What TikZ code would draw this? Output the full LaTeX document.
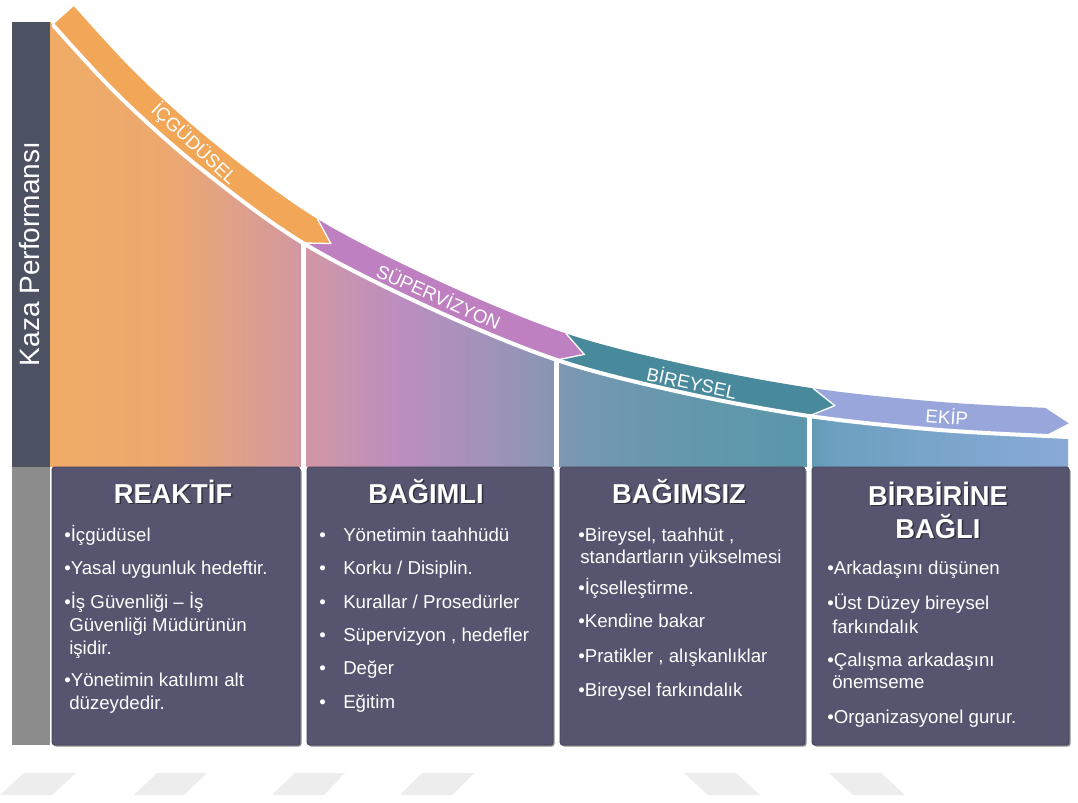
\documentclass[tikz,border=0pt]{standalone}
\usepackage{fontspec}
\setmainfont{Liberation Sans}
\definecolor{cA}{RGB}{240,172,102}
\definecolor{cB}{RGB}{236,168,112}
\definecolor{cC}{RGB}{210,152,162}
\definecolor{cD}{RGB}{188,142,192}
\definecolor{cE}{RGB}{150,148,182}
\definecolor{cF}{RGB}{118,152,178}
\definecolor{cG}{RGB}{98,152,172}
\definecolor{cH}{RGB}{92,150,170}
\definecolor{cI}{RGB}{108,160,192}
\definecolor{cJ}{RGB}{138,170,214}
\definecolor{arrorange}{RGB}{242,166,88}
\definecolor{arrpurple}{RGB}{190,128,192}
\definecolor{arrteal}{RGB}{72,138,156}
\definecolor{arrekip}{RGB}{152,166,220}
\definecolor{panelc}{RGB}{86,84,110}
\definecolor{axisdark}{RGB}{76,82,98}
\definecolor{axisgray}{RGB}{140,140,140}
\pgfdeclarehorizontalshading{curvefill}{100bp}{color(0bp)=(cA); color(25bp)=(cA); color(30.9bp)=(cB); color(37.3bp)=(cC); color(42.2bp)=(cD); color(48.1bp)=(cE); color(51bp)=(cF); color(56.9bp)=(cG); color(61.8bp)=(cH); color(63.3bp)=(cI); color(75bp)=(cJ); color(100bp)=(cJ)}
\newcommand\lowcurve{plot[smooth,tension=0.55] coordinates {(20,-14) (53,25) (120,97) (200,168) (303,243) (430,308) (557,360) (680,392) (809,416) (940,430) (1068,437) (1110,439)}}
\begin{document}
\begin{tikzpicture}[x=0.75pt,y=-0.75pt,
  body/.style={font=\fontsize{14}{16}\selectfont, text=white, anchor=base west, inner sep=0pt},
  head/.style={font=\fontsize{20.5}{24}\selectfont\bfseries, text=white, anchor=base, inner sep=0pt},
  headshadow/.style={font=\fontsize{20.5}{24}\selectfont\bfseries, text=black, opacity=0.45, anchor=base, inner sep=0pt},
  alabel/.style={font=\fontsize{14}{16}\selectfont, text=white, inner sep=0pt},
  panel/.style={fill=panelc, draw=panelc!85!black, line width=0.6pt, rounded corners=2pt},
  pshadow/.style={fill=black!45, rounded corners=2pt},
  divider/.style={white, line width=3.75pt},
  sepline/.style={white, line width=1pt, line join=miter},
  wm/.style={fill=black!7}
]
\useasboundingbox (0,0) rectangle (1078,803);
\fill[white] (0,0) rectangle (1078,803);

% left axis bars
\fill[axisdark] (12,22) rectangle (50,467);
\fill[axisgray] (12,467) rectangle (50,745);
\node[rotate=90, text=white, font=\fontsize{21}{24}\selectfont] (ylab) at (30,254) {Kaza Performansı};

% coloured area under the curve
\begin{scope}
\clip \lowcurve -- (1110,467) -- (0,467) -- cycle;
\shade[shading=curvefill] (50,10) rectangle (1068,467);
\end{scope}

% arrow bands
\begin{scope}
\clip \lowcurve -- (1110,-100) -- (0,-100) -- cycle;
\begin{scope}
\clip (41.9,600) -- (41.9,35) -- (86.4,-5.1) -- (304.34,194.66) -- (317.56,219.09) -- (330.78,243.52) -- (303,243) -- (275.22,242.48) -- (275.22,600) -- cycle;
\draw[arrorange, line width=42pt] \lowcurve;
\end{scope}
\begin{scope}
\clip (303,600) -- (303,243) -- (330.78,243.52) -- (317.56,219.09) -- (304.34,194.66) -- (547.63,312.55) -- (565.92,333.46) -- (584.21,354.37) -- (557,360) -- (529.79,365.63) -- (529.79,600) -- cycle;
\draw[arrpurple, line width=42pt] \lowcurve;
\end{scope}
\begin{scope}
\clip (557,600) -- (557,360) -- (584.21,354.37) -- (565.92,333.46) -- (547.63,312.55) -- (791.33,370.96) -- (813.05,388.29) -- (834.77,405.62) -- (809,416) -- (783.23,426.38) -- (783.23,600) -- cycle;
\draw[arrteal, line width=42pt] \lowcurve;
\end{scope}
\begin{scope}
\clip (809,600) -- (809,416) -- (834.77,405.62) -- (813.05,388.29) -- (791.33,370.96) -- (1022.35,392.74) -- (1045.54,408.04) -- (1068.73,423.34) -- (1044,436) -- (1019.27,448.66) -- (1019.27,600) -- cycle;
\draw[arrekip, line width=42pt] \lowcurve;
\end{scope}
\end{scope}

% white separations
\draw[sepline] (303,243) -- (330.78,243.52) -- (317.56,219.09);
\draw[sepline] (557,360) -- (584.21,354.37) -- (565.92,333.46);
\draw[sepline] (809,416) -- (834.77,405.62) -- (813.05,388.29);
\begin{scope}
\clip (52,0) rectangle (1068,470);
\draw[white, line width=3pt] \lowcurve;
\end{scope}
\draw[divider] (303.5,243) -- (303.5,468);
\draw[divider] (556.5,360) -- (556.5,468);
\draw[divider] (809,416) -- (809,468);

% arrow labels
\node[alabel, rotate=-43] (l1) at (194,144) {İÇGÜDÜSEL};
\node[alabel, rotate=-24] (l2) at (439,296) {SÜPERVİZYON};
\node[alabel, rotate=-12] (l3) at (692,382) {BİREYSEL};
\node[alabel, rotate=-4] (l4) at (947,416) {EKİP};

% panels
\fill[pshadow] (53.5,468.5) rectangle (301.5,746.5);
\fill[pshadow] (308.5,468.5) rectangle (554.5,746.5);
\fill[pshadow] (561.5,468.5) rectangle (806.5,746.5);
\fill[pshadow] (813.5,468.5) rectangle (1070.5,746.5);
\path[panel] (52,467) rectangle (300,745);
\path[panel] (307,467) rectangle (553,745);
\path[panel] (560,467) rectangle (805,745);
\path[panel] (812,467) rectangle (1069,745);

% headings
\node[headshadow] (h1s) at (174.5,504.5) {REAKTİF};
\node[head] (h1) at (173,503) {REAKTİF};
\node[headshadow] (h2s) at (427.5,504.5) {BAĞIMLI};
\node[head] (h2) at (426,503) {BAĞIMLI};
\node[headshadow] (h3s) at (680.5,504.5) {BAĞIMSIZ};
\node[head] (h3) at (679,503) {BAĞIMSIZ};
\node[headshadow] (h4s) at (939.5,506.5) {BİRBİRİNE};
\node[head] (h4) at (938,505) {BİRBİRİNE};
\node[headshadow] (h5s) at (939.5,539.5) {BAĞLI};
\node[head] (h5) at (938,538) {BAĞLI};

% panel 1
\node[body] (a1) at (64,541) {•İçgüdüsel};
\node[body] (a2) at (64,574) {•Yasal uygunluk hedeftir.};
\node[body] (a3) at (64,608) {•İş Güvenliği – İş};
\node[body] (a4) at (69,631) {Güvenliği Müdürünün};
\node[body] (a5) at (69,654) {işidir.};
\node[body] (a6) at (64,686) {•Yönetimin katılımı alt};
\node[body] (a7) at (69,709) {düzeydedir.};

% panel 2
\node[body] (b1d) at (319,541) {•};
\node[body] (b1) at (343,541) {Yönetimin taahhüdü};
\node[body] (b2d) at (319,574) {•};
\node[body] (b2) at (343,574) {Korku / Disiplin.};
\node[body] (b3d) at (319,608) {•};
\node[body] (b3) at (343,608) {Kurallar / Prosedürler};
\node[body] (b4d) at (319,641) {•};
\node[body] (b4) at (343,641) {Süpervizyon , hedefler};
\node[body] (b5d) at (319,674) {•};
\node[body] (b5) at (343,674) {Değer};
\node[body] (b6d) at (319,708) {•};
\node[body] (b6) at (343,708) {Eğitim};

% panel 3
\node[body] (c1) at (578,541) {•Bireysel, taahhüt ,};
\node[body] (c2) at (580,563) {standartların yükselmesi};
\node[body] (c3) at (578,594) {•İçselleştirme.};
\node[body] (c4) at (578,627) {•Kendine bakar};
\node[body] (c5) at (578,662) {•Pratikler , alışkanlıklar};
\node[body] (c6) at (578,696) {•Bireysel farkındalık};

% panel 4
\node[body] (d1) at (827,574) {•Arkadaşını düşünen};
\node[body] (d2) at (827,609) {•Üst Düzey bireysel};
\node[body] (d3) at (832,633) {farkındalık};
\node[body] (d4) at (827,666) {•Çalışma arkadaşını};
\node[body] (d5) at (832,688) {önemseme};
\node[body] (d6) at (827,723) {•Organizasyonel gurur.};

% faint marks at the bottom
\fill[wm] (24,773) -- (76,773) -- (52,795) -- (0,795) -- cycle;
\fill[wm] (157,773) -- (207,773) -- (184,795) -- (134,795) -- cycle;
\fill[wm] (295,773) -- (345,773) -- (324,795) -- (272,795) -- cycle;
\fill[wm] (422,773) -- (474,773) -- (452,795) -- (400,795) -- cycle;
\fill[wm] (684,773) -- (736,773) -- (760,795) -- (708,795) -- cycle;
\fill[wm] (829,773) -- (881,773) -- (905,795) -- (853,795) -- cycle;
\end{tikzpicture}
\end{document}
